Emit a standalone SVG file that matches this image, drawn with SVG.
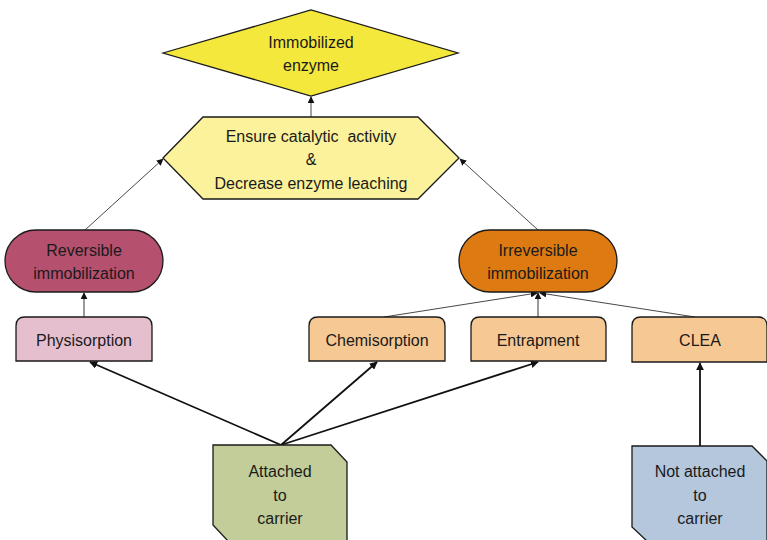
<svg xmlns="http://www.w3.org/2000/svg" width="767" height="540" viewBox="0 0 767 540">
  <style>
    text { font-family: "Liberation Sans", Arial, sans-serif; font-size: 16px; fill: #1a1a1a; text-anchor: middle; }
    .shape { stroke: #1a1a1a; stroke-width: 1.3; }
    .thin { stroke: #333; stroke-width: 0.9; fill: none; }
    .gray { stroke: #555; stroke-width: 1.2; fill: none; }
    .thick { stroke: #111; stroke-width: 1.8; fill: none; }
  </style>
  <defs>
    <marker id="ah" viewBox="0 0 10 10" refX="9" refY="5" markerWidth="7" markerHeight="7" markerUnits="userSpaceOnUse" orient="auto">
      <path d="M0,0 L10,5 L0,10 z" fill="#111"/>
    </marker>
    <marker id="ahb" viewBox="0 0 10 10" refX="9" refY="5" markerWidth="8" markerHeight="8" markerUnits="userSpaceOnUse" orient="auto">
      <path d="M0,0 L10,5 L0,10 z" fill="#111"/>
    </marker>
  </defs>

  <!-- connectors -->
  <g id="connectors">
    <line class="thin" x1="311" y1="117" x2="311" y2="97" marker-end="url(#ah)"/>
    <line class="thin" x1="85" y1="230" x2="163" y2="159" marker-end="url(#ah)"/>
    <line class="thin" x1="538" y1="230" x2="460" y2="159" marker-end="url(#ah)"/>
    <line class="gray" x1="84" y1="317" x2="84" y2="293" marker-end="url(#ah)"/>
    <line class="thin" x1="384" y1="317" x2="537" y2="293" marker-end="url(#ah)"/>
    <line class="gray" x1="538" y1="317" x2="538" y2="293" marker-end="url(#ah)"/>
    <line class="thin" x1="695" y1="317" x2="540" y2="293" marker-end="url(#ah)"/>
    <line class="thick" x1="281" y1="445" x2="90" y2="362" marker-end="url(#ahb)"/>
    <line class="thick" x1="281" y1="445" x2="377" y2="362" marker-end="url(#ahb)"/>
    <line class="thick" x1="281" y1="445" x2="538" y2="362" marker-end="url(#ahb)"/>
    <line class="thick" x1="700" y1="446" x2="700" y2="363" marker-end="url(#ahb)"/>
  </g>

  <g id="immobilized-enzyme">
    <polygon class="shape" points="163,53 311,10 458,53 311,96" fill="#f5e83d"/>
    <text x="311" y="48">Immobilized</text>
    <text x="311" y="71">enzyme</text>
  </g>

  <g id="goal">
    <polygon class="shape" points="163,158 203,117 418,117 459,158 418,199 203,199" fill="#fbf29b"/>
    <text x="311" y="142" xml:space="preserve">Ensure catalytic  activity</text>
    <text x="311" y="165">&amp;</text>
    <text x="311" y="189">Decrease enzyme leaching</text>
  </g>

  <g id="reversible">
    <rect class="shape" x="5" y="230" width="158" height="62" rx="31" ry="31" fill="#b5506f"/>
    <text x="84" y="256">Reversible</text>
    <text x="84" y="279">immobilization</text>
  </g>

  <g id="irreversible">
    <rect class="shape" x="459" y="230" width="158" height="62" rx="31" ry="31" fill="#dd7b12"/>
    <text x="538" y="256">Irreversible</text>
    <text x="538" y="279">immobilization</text>
  </g>

  <g id="physisorption">
    <path class="shape" d="M16,361 L16,326 Q16,317 25,317 L143,317 Q152,317 152,326 L152,361 Z" fill="#e6bfcf"/>
    <text x="84" y="346">Physisorption</text>
  </g>

  <g id="chemisorption">
    <path class="shape" d="M309,361 L309,326 Q309,317 318,317 L436,317 Q445,317 445,326 L445,361 Z" fill="#f6c893"/>
    <text x="377" y="346">Chemisorption</text>
  </g>

  <g id="entrapment">
    <path class="shape" d="M471,361 L471,326 Q471,317 480,317 L597,317 Q606,317 606,326 L606,361 Z" fill="#f6c893"/>
    <text x="538" y="346">Entrapment</text>
  </g>

  <g id="clea">
    <path class="shape" d="M632,362 L632,326 Q632,317 641,317 L758,317 Q767,317 767,326 L767,362 Z" fill="#f6c893"/>
    <text x="700" y="346">CLEA</text>
  </g>

  <g id="attached">
    <path class="shape" d="M213,445 L331,445 L347,462 L347,541 L228,541 L213,525 Z" fill="#c2cd99"/>
    <text x="280" y="477">Attached</text>
    <text x="280" y="501">to</text>
    <text x="280" y="524">carrier</text>
  </g>

  <g id="not-attached">
    <path class="shape" d="M632,446 L752,446 L767,461 L767,541 L647,541 L632,527 Z" fill="#b4c7dd"/>
    <text x="700" y="477">Not attached</text>
    <text x="700" y="501">to</text>
    <text x="700" y="524">carrier</text>
  </g>
</svg>
